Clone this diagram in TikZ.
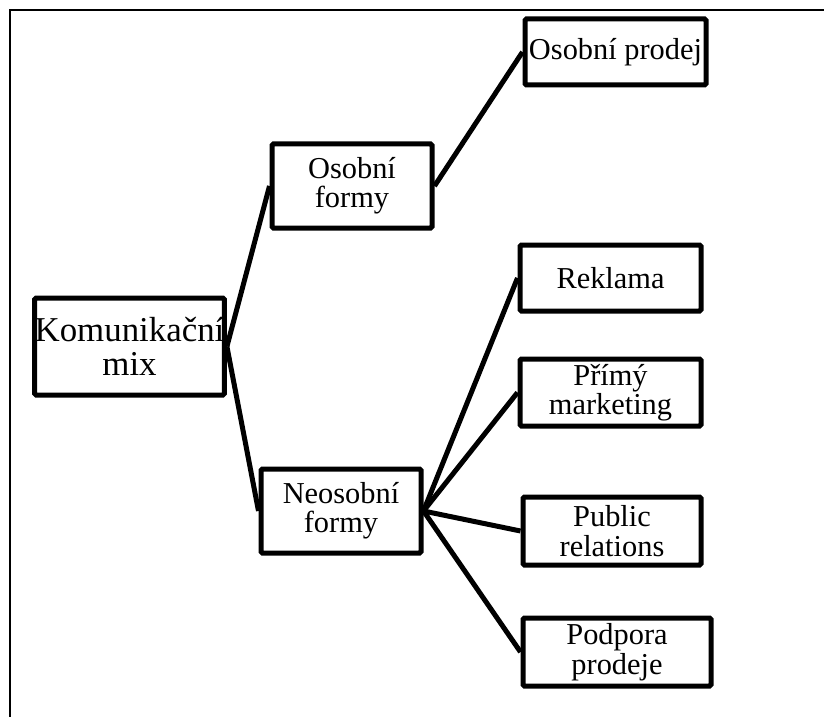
\documentclass[tikz,border=0pt]{standalone}
\usepackage{fontspec}
\setmainfont{Liberation Serif}
\begin{document}
\begin{tikzpicture}[x=1bp,y=-1bp,
  box/.style={draw=black,line width=5bp,rounded corners=1.5bp,fill=white,
    inner sep=0pt,align=center,font=\fontsize{30.5}{29.5}\selectfont},
  rootbox/.style={box,font=\fontsize{35}{34}\selectfont},
  link/.style={draw=black,line width=5bp}]
  \useasboundingbox (0,0) rectangle (824,717);
  % thin frame along the top and left
  \draw[line width=1.8bp] (10,717) -- (10,10) -- (824,10);

  % nodes
  \node[rootbox,minimum width=182bp,minimum height=97bp] (km) at (129.5,346.5) {Komunikační\\mix};
  \node[box,minimum width=160bp,minimum height=84bp] (of) at (352,186) {Osobní\\formy};
  \node[box,minimum width=160bp,minimum height=84bp] (nf) at (341,511) {Neosobní\\formy};
  \node[box,minimum width=181bp,minimum height=66bp] (op) at (615.5,52) {Osobní prodej};
  \node[box,minimum width=181bp,minimum height=66bp] (rk) at (610.5,278) {Reklama};
  \node[box,minimum width=181bp,minimum height=67bp] (pm) at (610.5,392.5) {Přímý\\marketing};
  \node[box,minimum width=178bp,minimum height=68bp] (pr) at (612,531) {Public\\relations};
  \node[box,minimum width=188bp,minimum height=68bp] (pp) at (617,652) {Podpora\\prodeje};

  % connectors
  \path[link] (km.east) -- (of.west);
  \path[link] (km.east) -- (nf.west);
  \path[link] (of.east) -- (op.west);
  \path[link] (nf.east) -- (rk.west);
  \path[link] (nf.east) -- (pm.west);
  \path[link] (nf.east) -- (pr.west);
  \path[link] (nf.east) -- (pp.west);
\end{tikzpicture}
\end{document}
